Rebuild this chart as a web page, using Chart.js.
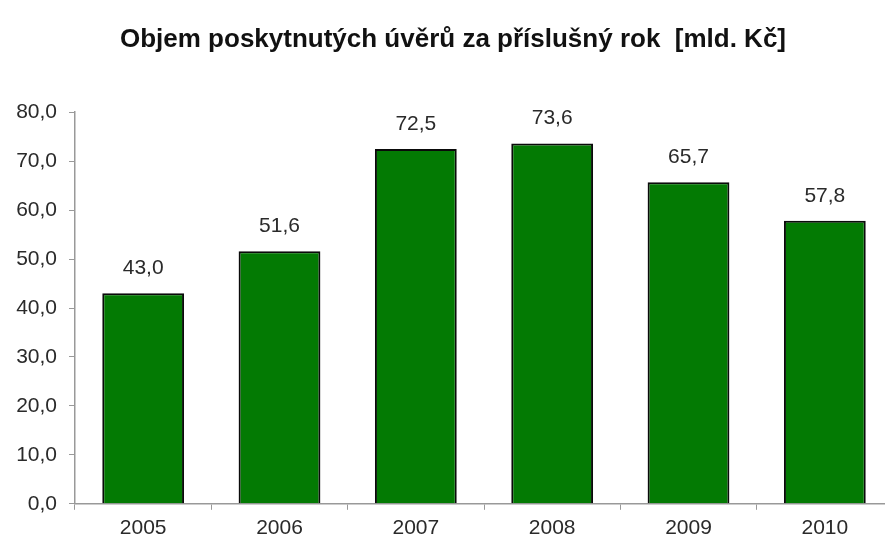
<!DOCTYPE html>
<html><head><meta charset="utf-8">
<script src="https://cdn.jsdelivr.net/npm/chart.js@4/dist/chart.umd.min.js"></script>
<style>html,body{margin:0;padding:0;background:#fff;overflow:hidden}#wrap{width:885px;height:541px;overflow:hidden}</style>
</head><body><div id="wrap"><canvas id="c" width="900" height="547"></canvas></div>
<script>
const categories = ['2005','2006','2007','2008','2009','2010'];
const values = [43.0, 51.6, 72.5, 73.6, 65.7, 57.8];
const titleText = 'Objem poskytnutých úvěrů za příslušný rok  [mld. Kč]';
const fmt = v => v.toFixed(1).replace('.', ',');
const FONT = '"Liberation Sans", Arial, sans-serif';

const labelPlugin = {
  id: 'vals',
  afterDatasetsDraw(chart) {
    const ctx = chart.ctx;
    const meta = chart.getDatasetMeta(0);
    ctx.save();
    ctx.font = '21px ' + FONT;
    ctx.fillStyle = '#2a2a2a';
    ctx.textAlign = 'center';
    ctx.textBaseline = 'middle';
    meta.data.forEach((bar, i) => {
      ctx.fillText(fmt(values[i]), bar.x, bar.y - 25);
    });
    ctx.restore();
  }
};

new Chart(document.getElementById('c'), {
  type: 'bar',
  data: {
    labels: categories,
    datasets: [{
      data: values,
      backgroundColor: '#037a03',
      borderColor: '#0a0a0a',
      borderWidth: 2,
      categoryPercentage: 0.6,
      barPercentage: 1.0
    }]
  },
  options: {
    responsive: false,
    animation: false,
    layout: { padding: { left: 13, right: 7, top: 0, bottom: 0 } },
    plugins: {
      legend: { display: false },
      tooltip: { enabled: false },
      title: {
        display: true,
        text: titleText,
        color: '#111',
        font: { family: FONT, size: 26, weight: 'bold' },
        padding: { top: 24, bottom: 57 }
      }
    },
    scales: {
      x: {
        grid: { display: true, drawOnChartArea: false, drawTicks: true, tickLength: 6, color: '#999' },
        border: { display: true, color: '#999', width: 1.5 },
        ticks: { color: '#2a2a2a', font: { family: FONT, size: 21 }, padding: 6 }
      },
      y: {
        min: 0, max: 80,
        afterFit(s) { s.width = 62; },
        grid: { display: true, drawOnChartArea: false, drawTicks: true, tickLength: 6, color: '#999' },
        border: { display: true, color: '#999', width: 1.5 },
        ticks: { stepSize: 10, color: '#2a2a2a', padding: 12,
          font: { family: FONT, size: 21 },
          callback: v => fmt(v) }
      }
    }
  },
  plugins: [labelPlugin]
});
</script></body></html>
